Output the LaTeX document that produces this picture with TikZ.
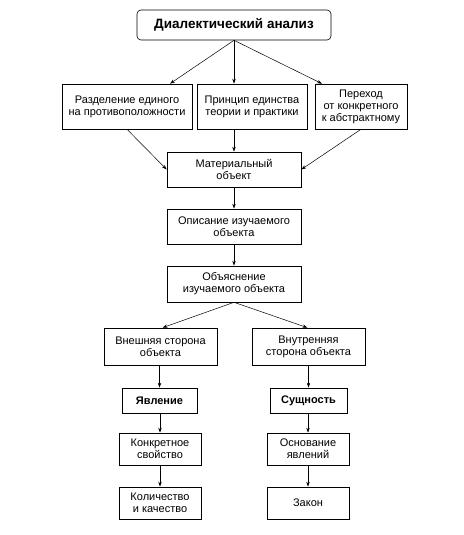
\documentclass[tikz,border=0pt]{standalone}
\usepackage{fontspec}
\setmainfont{Liberation Sans}
\usepackage{tikz}
\usetikzlibrary{arrows.meta, positioning}

\begin{document}
\begin{tikzpicture}[x=1pt, y=-1pt,
    box/.style={rectangle, draw, line width=0.6pt, inner sep=1pt, align=center, font=\fontsize{11}{12}\selectfont},
    arrow/.style={-{Stealth[length=5pt, width=3.4pt]}, line width=0.5pt}
]
\useasboundingbox (0,0) rectangle (463,535);

\node[box, rounded corners=4pt, minimum width=194pt, minimum height=30pt, font=\fontsize{13.5}{15}\selectfont\bfseries] (dial) at (234,25) {Диалектический анализ};

\node[box, minimum width=130pt, minimum height=45pt] (razd) at (127,106.5) {Разделение единого\\на противоположности};
\node[box, minimum width=110pt, minimum height=45pt] (princ) at (252,106.5) {Принцип единства\\теории и практики};
\node[box, minimum width=92pt, minimum height=45pt] (perch) at (361,106.5) {Переход\\от конкретного\\к абстрактному};

\node[box, minimum width=134pt, minimum height=35pt] (mat) at (234,169.5) {Материальный\\объект};
\node[box, minimum width=134pt, minimum height=35pt] (opis) at (234,226.5) {Описание изучаемого\\объекта};
\node[box, minimum width=134pt, minimum height=36pt] (obsn) at (234,284) {Объяснение\\изучаемого объекта};

\node[box, minimum width=113pt, minimum height=37pt] (vnesh) at (160.5,346.5) {Внешняя сторона\\объекта};
\node[box, minimum width=113pt, minimum height=37pt] (vnutr) at (308.5,346.5) {Внутренняя\\сторона объекта};

\node[box, minimum width=75pt, minimum height=25pt, font=\fontsize{11}{12}\selectfont\bfseries] (yavl) at (159.5,400.5) {Явление};
\node[box, minimum width=77pt, minimum height=25pt, font=\fontsize{11}{12}\selectfont\bfseries] (sushch) at (308.5,400.5) {Сущность};

\node[box, minimum width=82pt, minimum height=32pt] (konkr) at (160,449) {Конкретное\\свойство};
\node[box, minimum width=82pt, minimum height=32pt] (osnov) at (308,449) {Основание\\явлений};

\node[box, minimum width=82pt, minimum height=32pt] (kolich) at (160,503) {Количество\\и качество};
\node[box, minimum width=82pt, minimum height=32pt] (zakon) at (308,503) {Закон};

\draw[arrow] (dial.south) -- ([xshift=43pt]razd.north);
\draw[arrow] (dial.south) -- (dial.south |- princ.north);
\draw[arrow] (dial.south) -- ([xshift=-39pt]perch.north);

\draw[arrow] (razd.south) -- (mat.west);
\draw[arrow] (mat.north |- princ.south) -- (mat.north);
\draw[arrow] (perch.south) -- (mat.east);

\draw[arrow] (mat) -- (opis);
\draw[arrow] (opis) -- (obsn);

\draw[arrow] (obsn.south) -- ([xshift=2pt]vnesh.north);
\draw[arrow] (obsn.south) -- ([xshift=-1pt]vnutr.north);

\draw[arrow] (vnesh.south -| yavl.north) -- (yavl.north);
\draw[arrow] (yavl.south -| konkr.north) -- (konkr.north);
\draw[arrow] (konkr) -- (kolich);

\draw[arrow] (vnutr.south -| sushch.north) -- (sushch.north);
\draw[arrow] (sushch.south -| osnov.north) -- (osnov.north);
\draw[arrow] (osnov) -- (zakon);

\end{tikzpicture}
\end{document}
